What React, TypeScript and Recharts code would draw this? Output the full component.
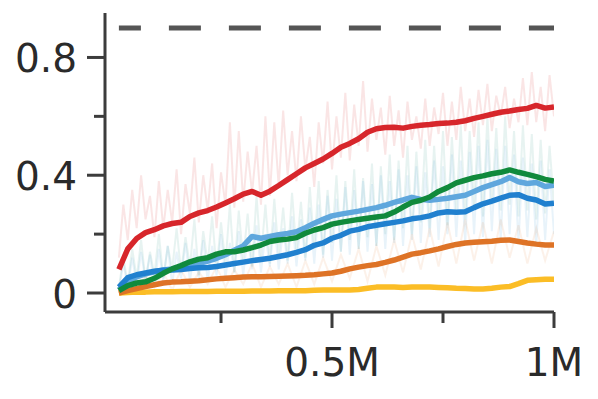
import React from 'react';
import { LineChart, Line, XAxis, YAxis } from 'recharts';

const W = 598;
const H = 399;
const FONT = '"DejaVu Sans", Verdana, sans-serif';
const AXIS_COLOR = '#3c3c3c';
const TEXT_COLOR = '#2a2a2a';

// ticks
const X_TICKS = [0.25, 0.5, 0.75, 1];
const X_LABELS: Record<string, string> = { '0.5': '0.5M', '1': '1M' };
const Y_TICKS = [0, 0.2, 0.4, 0.6, 0.8];
const Y_LABELS: Record<string, string> = { '0': '0', '0.4': '0.4', '0.8': '0.8' };

// target (dashed) level
const TARGET_X = [0.02, 1];
const TARGET_Y = 0.9;

// smoothed series, sampled at 0.02M, 0.04M, ..., 1M
const SMOOTH_START = 0.02;
const SMOOTH_STEP = 0.02;
const red = [
  0.08, 0.15, 0.185, 0.205, 0.215, 0.228, 0.236, 0.24, 0.26, 0.272,
  0.28, 0.292, 0.306, 0.32, 0.336, 0.345, 0.332, 0.346, 0.365, 0.385,
  0.405, 0.425, 0.44, 0.455, 0.474, 0.495, 0.508, 0.524, 0.546, 0.558,
  0.562, 0.563, 0.56, 0.566, 0.57, 0.572, 0.576, 0.577, 0.58, 0.585,
  0.593, 0.6, 0.607, 0.614, 0.618, 0.623, 0.627, 0.637, 0.628, 0.632,
];
const green = [
  0.008, 0.025, 0.034, 0.038, 0.05, 0.067, 0.082, 0.093, 0.106, 0.115,
  0.12, 0.132, 0.14, 0.14, 0.146, 0.154, 0.163, 0.175, 0.18, 0.183,
  0.188, 0.203, 0.214, 0.222, 0.234, 0.24, 0.245, 0.25, 0.254, 0.258,
  0.262, 0.275, 0.292, 0.308, 0.315, 0.326, 0.345, 0.358, 0.374, 0.383,
  0.392, 0.398, 0.405, 0.41, 0.418, 0.41, 0.403, 0.395, 0.386, 0.38,
];
const lightBlue = [
  0.01, 0.04, 0.055, 0.065, 0.072, 0.078, 0.082, 0.088, 0.094, 0.1,
  0.108, 0.118, 0.13, 0.145, 0.16, 0.192, 0.186, 0.192, 0.198, 0.202,
  0.208, 0.222, 0.237, 0.25, 0.262, 0.268, 0.273, 0.278, 0.284, 0.29,
  0.298, 0.308, 0.316, 0.325, 0.318, 0.315, 0.318, 0.322, 0.327, 0.332,
  0.345, 0.358, 0.368, 0.378, 0.392, 0.378, 0.372, 0.375, 0.362, 0.366,
];
const blue = [
  0.02, 0.052, 0.062, 0.068, 0.074, 0.077, 0.078, 0.08, 0.083, 0.086,
  0.087, 0.09, 0.095, 0.1, 0.105, 0.11, 0.114, 0.118, 0.124, 0.13,
  0.138, 0.147, 0.162, 0.17, 0.186, 0.196, 0.21, 0.216, 0.225, 0.23,
  0.235, 0.24, 0.245, 0.252, 0.256, 0.262, 0.272, 0.276, 0.274, 0.276,
  0.29, 0.303, 0.312, 0.322, 0.332, 0.334, 0.322, 0.316, 0.302, 0.305,
];
const orange = [
  0, 0.008, 0.015, 0.022, 0.028, 0.034, 0.037, 0.038, 0.04, 0.042,
  0.045, 0.048, 0.05, 0.052, 0.054, 0.055, 0.055, 0.056, 0.057, 0.058,
  0.059, 0.06, 0.062, 0.065, 0.068, 0.074, 0.082, 0.088, 0.093, 0.097,
  0.104, 0.112, 0.122, 0.132, 0.137, 0.143, 0.15, 0.158, 0.165, 0.17,
  0.172, 0.174, 0.176, 0.179, 0.18, 0.175, 0.17, 0.166, 0.163, 0.163,
];
const yellow = [
  0, 0.002, 0.003, 0.003, 0.004, 0.004, 0.004, 0.005, 0.005, 0.005,
  0.005, 0.006, 0.006, 0.006, 0.006, 0.007, 0.007, 0.007, 0.008, 0.008,
  0.008, 0.008, 0.009, 0.01, 0.01, 0.01, 0.01, 0.012, 0.016, 0.02,
  0.02, 0.02, 0.019, 0.02, 0.02, 0.02, 0.019, 0.018, 0.016, 0.015,
  0.014, 0.014, 0.016, 0.02, 0.022, 0.032, 0.043, 0.045, 0.047, 0.047,
];

// raw (unsmoothed) series, sampled at 0.02M, 0.03M, ..., 1M
const RAW_START = 0.02;
const RAW_STEP = 0.01;
const redRaw = [
  0.12, 0.30, 0.18, 0.35, 0.22, 0.40, 0.25, 0.33, 0.19, 0.38,
  0.22, 0.35, 0.24, 0.42, 0.20, 0.37, 0.27, 0.46, 0.24, 0.40,
  0.28, 0.44, 0.22, 0.41, 0.30, 0.58, 0.29, 0.55, 0.31, 0.48,
  0.34, 0.50, 0.30, 0.60, 0.33, 0.58, 0.36, 0.62, 0.40, 0.55,
  0.38, 0.60, 0.42, 0.53, 0.36, 0.58, 0.44, 0.65, 0.42, 0.60,
  0.46, 0.68, 0.45, 0.64, 0.50, 0.72, 0.48, 0.66, 0.52, 0.63,
  0.47, 0.67, 0.50, 0.62, 0.46, 0.65, 0.52, 0.60, 0.49, 0.66,
  0.50, 0.63, 0.54, 0.68, 0.50, 0.65, 0.52, 0.70, 0.55, 0.66,
  0.53, 0.69, 0.57, 0.71, 0.55, 0.67, 0.60, 0.70, 0.56, 0.66,
  0.58, 0.73, 0.57, 0.75, 0.58, 0.70, 0.55, 0.74, 0.60,
];
const greenRaw = [
  0.02, 0.12, 0.03, 0.15, 0.05, 0.18, 0.04, 0.14, 0.06, 0.20,
  0.05, 0.16, 0.08, 0.22, 0.07, 0.19, 0.09, 0.25, 0.06, 0.21,
  0.10, 0.26, 0.08, 0.24, 0.10, 0.30, 0.07, 0.28, 0.11, 0.27,
  0.09, 0.33, 0.12, 0.30, 0.10, 0.32, 0.13, 0.29, 0.11, 0.34,
  0.14, 0.31, 0.12, 0.36, 0.15, 0.38, 0.13, 0.35, 0.17, 0.40,
  0.14, 0.38, 0.18, 0.42, 0.15, 0.39, 0.19, 0.44, 0.16, 0.43,
  0.20, 0.47, 0.18, 0.45, 0.22, 0.50, 0.20, 0.48, 0.24, 0.52,
  0.22, 0.50, 0.26, 0.55, 0.23, 0.53, 0.28, 0.57, 0.25, 0.55,
  0.30, 0.58, 0.26, 0.60, 0.30, 0.56, 0.28, 0.60, 0.30, 0.55,
  0.26, 0.57, 0.28, 0.54, 0.25, 0.52, 0.27, 0.50, 0.30,
];
const blueRaw = [
  0.01, 0.10, 0.02, 0.12, 0.03, 0.14, 0.04, 0.13, 0.02, 0.15,
  0.04, 0.16, 0.03, 0.14, 0.05, 0.17, 0.04, 0.15, 0.05, 0.18,
  0.04, 0.16, 0.06, 0.20, 0.05, 0.17, 0.07, 0.21, 0.06, 0.19,
  0.08, 0.23, 0.07, 0.20, 0.09, 0.24, 0.08, 0.22, 0.10, 0.26,
  0.09, 0.25, 0.11, 0.29, 0.10, 0.30, 0.12, 0.33, 0.11, 0.32,
  0.14, 0.36, 0.13, 0.35, 0.15, 0.38, 0.14, 0.37, 0.16, 0.40,
  0.15, 0.38, 0.17, 0.42, 0.16, 0.40, 0.18, 0.43, 0.17, 0.41,
  0.19, 0.45, 0.18, 0.43, 0.20, 0.47, 0.19, 0.45, 0.17, 0.48,
  0.20, 0.50, 0.19, 0.52, 0.21, 0.49, 0.18, 0.50, 0.20, 0.47,
  0.17, 0.46, 0.19, 0.44, 0.16, 0.45, 0.18, 0.42, 0.20,
];
// orange raw sampled at the smoothed grid (0.02M step)
const orangeRaw = [
  0.0, 0.04, 0.01, 0.06, 0.02, 0.07, 0.01, 0.08, 0.02, 0.07,
  0.03, 0.09, 0.02, 0.08, 0.03, 0.10, 0.02, 0.09, 0.03, 0.10,
  0.02, 0.11, 0.03, 0.12, 0.04, 0.13, 0.05, 0.15, 0.04, 0.16,
  0.06, 0.18, 0.07, 0.20, 0.08, 0.22, 0.09, 0.24, 0.10, 0.25,
  0.11, 0.24, 0.10, 0.25, 0.12, 0.23, 0.10, 0.22, 0.11, 0.21,
];

const toPoints = (vals: number[], start: number, step: number) =>
  vals.map((y, i) => ({ x: +(start + i * step).toFixed(4), y }));

const COLORS = {
  red: '#d7262b',
  green: '#108a3c',
  lightBlue: '#5fa7dd',
  blue: '#2080cf',
  orange: '#de7326',
  yellow: '#fbbd26',
  target: '#555555',
};

const YTick = (props: any) => {
  const { x, y, payload } = props;
  const label = Y_LABELS[String(payload.value)];
  const len = label !== undefined ? 18 : 11;
  return (
    <g>
      <line x1={x - len} x2={x} y1={y} y2={y} stroke={AXIS_COLOR} strokeWidth={3} />
      {label !== undefined && (
        <text x={x - 28} y={y + 15} textAnchor="end" fontFamily={FONT} fontSize={39} fill={TEXT_COLOR}>
          {label}
        </text>
      )}
    </g>
  );
};

const XTick = (props: any) => {
  const { x, y, payload } = props;
  const label = X_LABELS[String(payload.value)];
  const len = label !== undefined ? 16 : 11;
  return (
    <g>
      <line x1={x} x2={x} y1={y} y2={y + len} stroke={AXIS_COLOR} strokeWidth={3} />
      {label !== undefined && (
        <text x={x} y={y + 64} textAnchor="middle" fontFamily={FONT} fontSize={39} fill={TEXT_COLOR}>
          {label}
        </text>
      )}
    </g>
  );
};

export default function App() {
  const rawSeries = [
    { key: 'redRaw', data: toPoints(redRaw, RAW_START, RAW_STEP), color: COLORS.red, op: 0.12 },
    { key: 'greenRaw', data: toPoints(greenRaw, RAW_START, RAW_STEP), color: '#3a9e8e', op: 0.12 },
    { key: 'blueRaw', data: toPoints(blueRaw, RAW_START, RAW_STEP), color: COLORS.lightBlue, op: 0.14 },
    { key: 'orangeRaw', data: toPoints(orangeRaw, SMOOTH_START, SMOOTH_STEP), color: COLORS.orange, op: 0.1 },
  ];
  const mainSeries = [
    { key: 'yellow', data: toPoints(yellow, SMOOTH_START, SMOOTH_STEP), color: COLORS.yellow },
    { key: 'orange', data: toPoints(orange, SMOOTH_START, SMOOTH_STEP), color: COLORS.orange },
    { key: 'lightBlue', data: toPoints(lightBlue, SMOOTH_START, SMOOTH_STEP), color: COLORS.lightBlue },
    { key: 'blue', data: toPoints(blue, SMOOTH_START, SMOOTH_STEP), color: COLORS.blue },
    { key: 'green', data: toPoints(green, SMOOTH_START, SMOOTH_STEP), color: COLORS.green },
    { key: 'red', data: toPoints(red, SMOOTH_START, SMOOTH_STEP), color: COLORS.red },
  ];
  const targetData = TARGET_X.map((x) => ({ x, y: TARGET_Y }));

  return (
    <div style={{ position: 'absolute', left: 0, top: 0, width: W, height: H, background: '#fff' }}>
      <LineChart width={W} height={H} margin={{ top: 13, right: 44, bottom: 0, left: 0 }}>
        <XAxis
          dataKey="x"
          type="number"
          domain={[-0.0113, 1]}
          allowDataOverflow
          ticks={X_TICKS}
          tick={<XTick />}
          tickSize={0}
          tickMargin={0}
          tickLine={false}
          height={87}
          axisLine={{ stroke: AXIS_COLOR, strokeWidth: 3 }}
          interval={0}
        />
        <YAxis
          type="number"
          domain={[-0.0645, 0.951]}
          allowDataOverflow
          ticks={Y_TICKS}
          tick={<YTick />}
          tickSize={0}
          tickMargin={0}
          tickLine={false}
          width={105}
          axisLine={{ stroke: AXIS_COLOR, strokeWidth: 3 }}
          interval={0}
        />
        {rawSeries.map((s) => (
          <Line
            key={s.key}
            data={s.data}
            dataKey="y"
            type="linear"
            stroke={s.color}
            strokeOpacity={s.op}
            strokeWidth={2}
            dot={false}
            activeDot={false}
            isAnimationActive={false}
          />
        ))}
        {mainSeries.map((s) => (
          <Line
            key={s.key}
            data={s.data}
            dataKey="y"
            type="linear"
            stroke={s.color}
            strokeWidth={5.5}
            strokeLinejoin="round"
            dot={false}
            activeDot={false}
            isAnimationActive={false}
          />
        ))}
        <Line
          data={targetData}
          dataKey="y"
          type="linear"
          stroke={COLORS.target}
          strokeWidth={5}
          strokeDasharray="32 28"
          strokeDashoffset={10}
          dot={false}
          activeDot={false}
          isAnimationActive={false}
        />
      </LineChart>
    </div>
  );
}
